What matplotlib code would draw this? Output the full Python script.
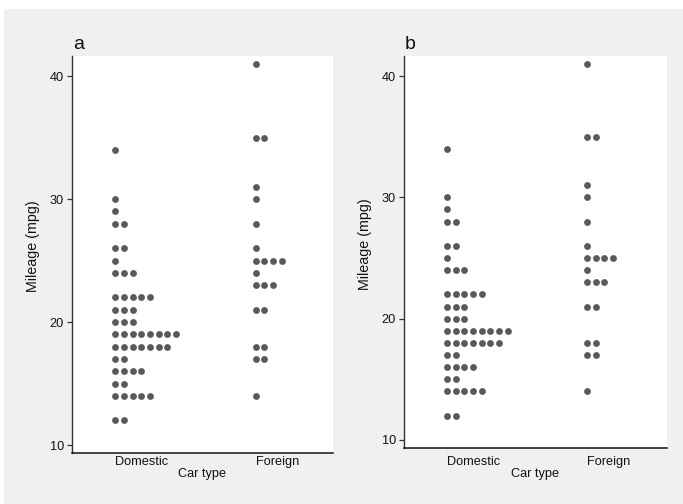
import matplotlib
matplotlib.use("Agg")
import matplotlib.pyplot as plt
from matplotlib.patches import Rectangle
from collections import Counter

plt.rcParams['font.family'] = ['Liberation Sans', 'DejaVu Sans']

# Data: mileage (mpg) by car type (auto dataset)
categories = ["Domestic", "Foreign"]
domestic_mpg = [22, 17, 22, 20, 15, 18, 26, 20, 16, 19, 14, 14, 21, 29, 16, 22,
                22, 24, 19, 30, 18, 16, 17, 28, 21, 12, 12, 14, 22, 14, 15, 18,
                14, 20, 21, 19, 19, 18, 19, 24, 16, 28, 34, 25, 26, 18, 18, 18,
                19, 19, 19, 24]
foreign_mpg = [17, 23, 25, 23, 35, 24, 21, 21, 25, 28, 30, 14, 26, 35, 18, 31,
               18, 23, 41, 25, 25, 17]
yticks = [10, 20, 30, 40]
panel_titles = ["a", "b"]

W, H = 683, 504
fig = plt.figure(figsize=(W / 100, H / 100), dpi=100, facecolor='white')
bg = Rectangle((4 / W, 0), 1 - 4 / W, (H - 9) / H, transform=fig.transFigure,
               facecolor='#f0f0f0', edgecolor='none', zorder=-10)
fig.patches.append(bg)

dot_color = '#595959'
dx = 0.062
fs = 9.2

def px_rect(l, r, t, b):
    return [l / W, (H - b) / H, (r - l) / W, (b - t) / H]

panels = [
    dict(rect=px_rect(72, 333, 56, 453), ylim=(9.35, 41.63), xlim=(-0.306, 1.549),
         xtick_len=0, xtick_pad=2.2, xlab_y=-0.038),
    dict(rect=px_rect(404, 666.7, 56, 448), ylim=(9.34, 41.65), xlim=(-0.307, 1.569),
         xtick_len=3.6, xtick_pad=2.2, xlab_y=-0.051),
]

groups = [domestic_mpg, foreign_mpg]

for p, title in zip(panels, panel_titles):
    ax = fig.add_axes(p['rect'])
    ax.set_facecolor('white')
    for gi, vals in enumerate(groups):
        cnt = Counter(vals)
        xs, ys = [], []
        for v, n in cnt.items():
            for k in range(n):
                xs.append(gi + k * dx)
                ys.append(v)
        ax.plot(xs, ys, 'o', color=dot_color, markersize=4.9, markeredgewidth=0,
                clip_on=False)
    ax.set_xlim(*p['xlim'])
    ax.set_ylim(*p['ylim'])
    ax.set_yticks(yticks)
    ax.set_xticks([0, 1])
    ax.set_xticklabels(categories, ha='left')
    for s in ['top', 'right']:
        ax.spines[s].set_visible(False)
    ax.spines['left'].set_color('#333333')
    ax.spines['left'].set_linewidth(1.0)
    ax.spines['bottom'].set_color('#111111')
    ax.spines['bottom'].set_linewidth(1.1)
    ax.tick_params(axis='y', direction='out', length=3.6, width=0.9,
                   color='#333333', labelsize=fs, pad=2.3, labelcolor='#111111')
    ax.tick_params(axis='x', direction='out', length=p['xtick_len'], width=0.8,
                   color='#e4e4e4', labelsize=fs, pad=p['xtick_pad'],
                   labelcolor='#111111')
    ax.set_xlabel("Car type", fontsize=fs, color='#111111', labelpad=0)
    ax.set_ylabel("Mileage (mpg)", fontsize=10.3, color='#111111')
    ax.yaxis.set_label_coords(-0.123, 0.52)
    ax.xaxis.set_label_coords(0.5, p['xlab_y'])
    ax.text(0.004, 1.017, title, transform=ax.transAxes, fontsize=14,
            ha='left', va='baseline', color='#111111')

fig.savefig("out.png", dpi=100, facecolor=fig.get_facecolor())
